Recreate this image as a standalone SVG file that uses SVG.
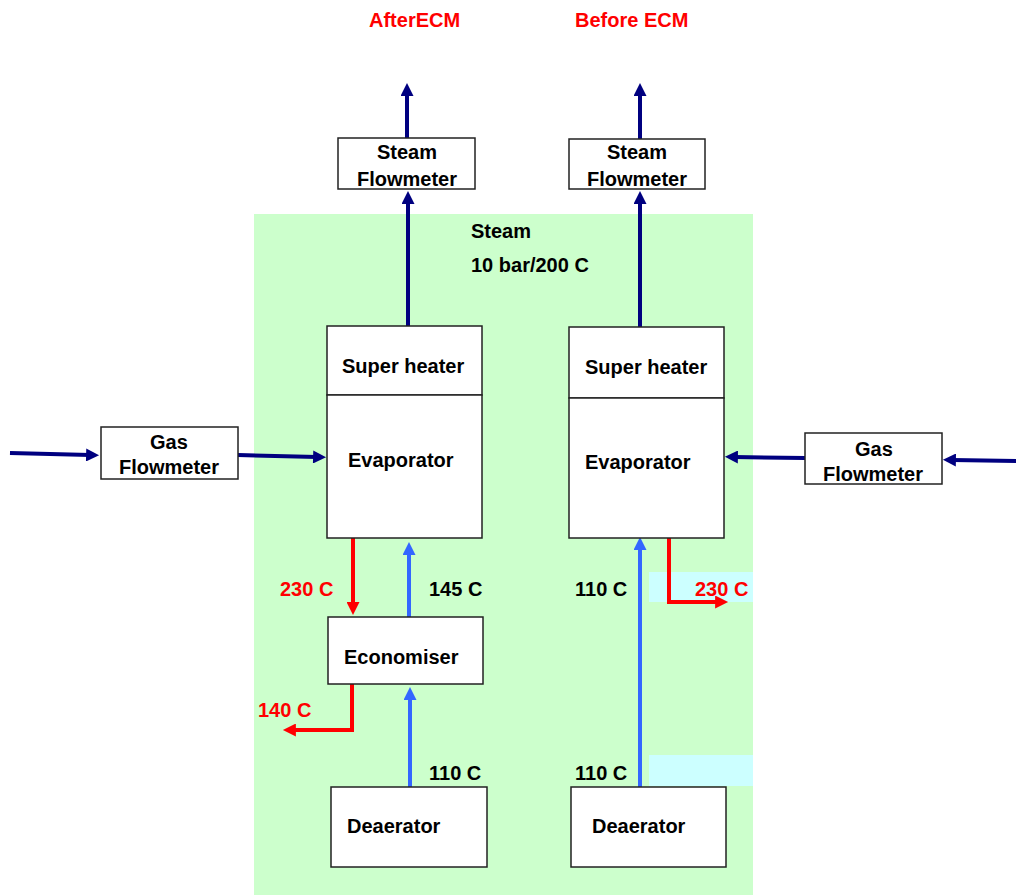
<svg xmlns="http://www.w3.org/2000/svg" width="1016" height="895" viewBox="0 0 1016 895">
<style>
text{font-family:"Liberation Sans",Arial,sans-serif;font-weight:bold;font-size:20px;fill:#000}
.red{fill:#ff0000}
.box{fill:#fff;stroke:#222;stroke-width:1.5}
.navy{stroke:#000080;stroke-width:4;fill:none}
.blue{stroke:#3366ff;stroke-width:4;fill:none}
.hot{stroke:#ff0000;stroke-width:4;fill:none}
</style>
<defs>
<marker id="mNavy" viewBox="0 0 10 10" refX="3" refY="5" markerUnits="userSpaceOnUse" markerWidth="14" markerHeight="13" orient="auto"><path d="M0,0 L10,5 L0,10 z" fill="#000080"/></marker>
<marker id="mBlue" viewBox="0 0 10 10" refX="3" refY="5" markerUnits="userSpaceOnUse" markerWidth="14" markerHeight="13" orient="auto"><path d="M0,0 L10,5 L0,10 z" fill="#3366ff"/></marker>
<marker id="mRed" viewBox="0 0 10 10" refX="3" refY="5" markerUnits="userSpaceOnUse" markerWidth="14" markerHeight="13" orient="auto"><path d="M0,0 L10,5 L0,10 z" fill="#ff0000"/></marker>
</defs>
<rect width="1016" height="895" fill="#fff"/>
<rect id="plant" x="254" y="214" width="499" height="681" fill="#ccffcc"/>
<rect x="649" y="572" width="104" height="30" fill="#ccffff"/>
<rect x="649" y="755" width="104" height="31" fill="#ccffff"/>

<text class="red" x="369" y="27">AfterECM</text>
<text class="red" x="575" y="27">Before ECM</text>
<text x="471" y="238">Steam</text>
<text x="471" y="272">10 bar/200 C</text>

<g id="connectors">
<line class="navy" x1="407" y1="138" x2="407" y2="92" marker-end="url(#mNavy)"/>
<line class="navy" x1="408" y1="326" x2="408" y2="200" marker-end="url(#mNavy)"/>
<line class="navy" x1="640" y1="139" x2="640" y2="92" marker-end="url(#mNavy)"/>
<line class="navy" x1="640" y1="327" x2="640" y2="200" marker-end="url(#mNavy)"/>
<line class="navy" x1="10" y1="453" x2="90" y2="455" marker-end="url(#mNavy)"/>
<line class="navy" x1="238" y1="455" x2="317" y2="457" marker-end="url(#mNavy)"/>
<line class="navy" x1="1016" y1="461" x2="952" y2="460" marker-end="url(#mNavy)"/>
<line class="navy" x1="805" y1="458" x2="734" y2="457" marker-end="url(#mNavy)"/>
<line class="hot" x1="353" y1="538" x2="353" y2="606" marker-end="url(#mRed)"/>
<line class="blue" x1="409" y1="617" x2="409" y2="551" marker-end="url(#mBlue)"/>
<path class="hot" d="M352,684 V730 H292" marker-end="url(#mRed)"/>
<line class="blue" x1="410" y1="787" x2="410" y2="696" marker-end="url(#mBlue)"/>
<line class="blue" x1="640" y1="787" x2="640" y2="546" marker-end="url(#mBlue)"/>
<path class="hot" d="M669,538 V602 H719" marker-end="url(#mRed)"/>
</g>

<g id="steam-fm-left"><rect class="box" x="338" y="138" width="137" height="51"/><text x="377" y="159">Steam</text><text x="357" y="186">Flowmeter</text></g>
<g id="steam-fm-right"><rect class="box" x="569" y="139" width="136" height="50"/><text x="607" y="159">Steam</text><text x="587" y="186">Flowmeter</text></g>
<g id="gas-fm-left"><rect class="box" x="101" y="427" width="137" height="52"/><text x="150" y="449">Gas</text><text x="119" y="474">Flowmeter</text></g>
<g id="gas-fm-right"><rect class="box" x="805" y="433" width="137" height="51"/><text x="855" y="456">Gas</text><text x="823" y="481">Flowmeter</text></g>

<g id="superheater-left"><rect class="box" x="327" y="326" width="155" height="69"/><text x="342" y="373">Super heater</text></g>
<g id="evaporator-left"><rect class="box" x="327" y="395" width="155" height="143"/><text x="348" y="467">Evaporator</text></g>
<g id="superheater-right"><rect class="box" x="569" y="327" width="155" height="71"/><text x="585" y="374">Super heater</text></g>
<g id="evaporator-right"><rect class="box" x="569" y="398" width="155" height="140"/><text x="585" y="469">Evaporator</text></g>
<g id="economiser"><rect class="box" x="328" y="617" width="155" height="67"/><text x="344" y="664">Economiser</text></g>
<g id="deaerator-left"><rect class="box" x="331" y="787" width="156" height="80"/><text x="347" y="833">Deaerator</text></g>
<g id="deaerator-right"><rect class="box" x="571" y="787" width="155" height="80"/><text x="592" y="833">Deaerator</text></g>

<text class="red" x="280" y="596">230 C</text>
<text x="429" y="596">145 C</text>
<text class="red" x="258" y="717">140 C</text>
<text x="429" y="780">110 C</text>
<text x="575" y="596">110 C</text>
<text x="575" y="780">110 C</text>
<text class="red" x="695" y="596">230 C</text>
</svg>
